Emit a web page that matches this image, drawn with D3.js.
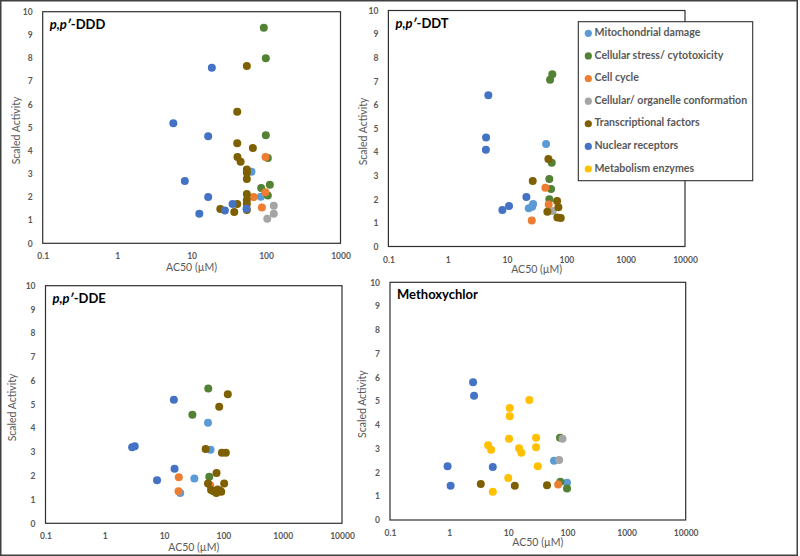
<!DOCTYPE html>
<html>
<head>
<meta charset="utf-8">
<script src="https://cdn.jsdelivr.net/npm/d3@7"></script>
<style>
  html, body { margin: 0; padding: 0; background: #fff; }
  svg { display: block; }
  text { font-family: Lato, "Open Sans", sans-serif; }
</style>
</head>
<body>
<svg id="chart" width="800" height="556"></svg>
<script>
// ---------- data ----------
const categories = ["Mitochondrial damage", "Cellular stress/ cytotoxicity", "Cell cycle",
  "Cellular/ organelle conformation", "Transcriptional factors", "Nuclear receptors", "Metabolism enzymes"];
const colors = ["#5B9BD5", "#548235", "#ED7D31", "#A5A5A5", "#7F6000", "#4472C4", "#FFC000"];

const yTickValues = [0, 1, 2, 3, 4, 5, 6, 7, 8, 9, 10];
const xTicksShort = [0.1, 1, 10, 100, 1000];
const xTicksLong = [0.1, 1, 10, 100, 1000, 10000];
const xTickLabels = {0.1: "0.1", 1: "1", 10: "10", 100: "100", 1000: "1000", 10000: "10000"};

// [category index, AC50 (µM), scaled activity]
const dddPoints = [
  [0, 63.8, 3.09], [0, 85, 2.01],
  [1, 93.3, 9.31], [1, 99.3, 7.99], [1, 99.3, 4.66], [1, 105.7, 3.68], [1, 112.5, 2.53], [1, 86, 2.39], [1, 105.7, 2.06],
  [2, 98.4, 3.73], [2, 97.7, 2.20], [2, 67.9, 2.00], [2, 87.9, 1.55],
  [3, 127, 1.62], [3, 127, 1.28], [3, 103.8, 1.06],
  [4, 55.2, 7.66], [4, 41, 5.68], [4, 41, 4.32], [4, 66.5, 4.11], [4, 41.3, 3.73], [4, 45.5, 3.52],
  [4, 55.2, 3.19], [4, 55.2, 3.05], [4, 55.2, 2.78], [4, 55.2, 2.13], [4, 55.2, 1.87], [4, 55.2, 1.70],
  [4, 55.2, 1.44], [4, 41, 1.70], [4, 24.3, 1.48], [4, 37.4, 1.35],
  [5, 18.7, 7.58], [5, 5.68, 5.18], [5, 16.7, 4.62], [5, 8.1, 2.69], [5, 16.7, 2.00], [5, 12.7, 1.28],
  [5, 28, 1.42], [5, 35.5, 1.70], [5, 54.7, 1.49]
];
const ddtPoints = [
  [0, 45.5, 4.34], [0, 23.2, 1.62], [0, 26.5, 1.68], [0, 27.5, 1.80],
  [1, 58, 7.30], [1, 53.1, 7.07], [1, 56.7, 3.55], [1, 51.6, 2.86], [1, 55.2, 2.44], [1, 51.6, 2.00],
  [2, 44.3, 2.49], [2, 50.4, 1.78], [2, 26.1, 1.10],
  [3, 58.9, 1.50],
  [4, 27.1, 2.78], [4, 49.8, 3.71], [4, 69.7, 1.93], [4, 73.3, 1.66], [4, 47.9, 1.47], [4, 70.5, 1.23], [4, 80.5, 1.21],
  [5, 4.84, 6.41], [5, 4.43, 4.62], [5, 4.4, 4.10], [5, 21.2, 2.10], [5, 10.8, 1.72], [5, 8.34, 1.55]
];
const ddePoints = [
  [0, 55, 4.23], [0, 60.7, 3.10], [0, 32.4, 1.89], [0, 18.7, 1.28],
  [1, 55.6, 5.67], [1, 30, 4.57], [1, 57.8, 1.96],
  [2, 17.7, 1.94], [2, 17.5, 1.35], [2, 60, 1.60],
  [4, 118.6, 5.43], [4, 84.9, 4.91], [4, 50.1, 3.13], [4, 94.2, 2.97], [4, 109.9, 2.97], [4, 76.6, 2.12],
  [4, 55, 1.68], [4, 103, 1.67], [4, 62, 1.40], [4, 68, 1.35], [4, 76, 1.28], [4, 80, 1.42], [4, 88, 1.37], [4, 92, 1.33],
  [5, 14.6, 5.20], [5, 15, 2.30], [5, 7.6, 1.81], [5, 2.89, 3.20], [5, 3.2, 3.24]
];
const methoxyPoints = [
  [0, 59.4, 2.49], [0, 98.4, 1.57],
  [1, 75, 3.46], [1, 76, 1.61], [1, 98.4, 1.32],
  [2, 69.7, 1.49],
  [3, 82.6, 3.42], [3, 72.4, 2.52],
  [4, 3.43, 1.51], [4, 12.9, 1.44], [4, 45.2, 1.46],
  [5, 2.54, 5.79], [5, 2.64, 5.23], [5, 0.94, 2.26], [5, 1.06, 1.44], [5, 5.47, 2.23],
  [6, 22.7, 5.05], [6, 10.6, 4.71], [6, 10.6, 4.36], [6, 10.3, 3.42], [6, 29.5, 3.46], [6, 29.5, 3.06],
  [6, 4.56, 3.14], [6, 5.12, 2.96], [6, 15.2, 3.02], [6, 16.6, 2.83], [6, 31.5, 2.26], [6, 10, 1.77], [6, 5.47, 1.19]
];

// ---------- layout ----------
const panels = [
  {title: "ddd", points: dddPoints, xMax: 1000, ticks: xTicksShort, x0: 42.7, x1: 340.5, y0: 11.7, y1: 243.3, yTitleX: 17, xTitleY: 268},
  {title: "ddt", points: ddtPoints, xMax: 10000, ticks: xTicksLong, x0: 388.4, x1: 685, y0: 10.5, y1: 246.5, yTitleX: 364, xTitleY: 270},
  {title: "dde", points: ddePoints, xMax: 10000, ticks: xTicksLong, x0: 45.5, x1: 342, y0: 285.7, y1: 523.3, yTitleX: 13, xTitleY: 548},
  {title: "Methoxychlor", points: methoxyPoints, xMax: 10000, ticks: xTicksLong, x0: 390, x1: 685.7, y0: 282.3, y1: 520, yTitleX: 363, xTitleY: 543}
];
const titleParts = {
  ddd: [["p,p′", true], ["-DDD", false]],
  ddt: [["p,p′", true], ["-DDT", false]],
  dde: [["p,p′", true], ["-DDE", false]],
  Methoxychlor: [["Methoxychlor", false]]
};

const svg = d3.select("#chart");
svg.append("rect").attr("x", 0.75).attr("y", 0.75).attr("width", 796.5).attr("height", 554.5)
  .attr("fill", "#fff").attr("stroke", "#404040").attr("stroke-width", 1.5);

const tickColor = "#595959";

panels.forEach(p => {
  const x = d3.scaleLog().domain([0.1, p.xMax]).range([p.x0, p.x1]);
  const y = d3.scaleLinear().domain([0, 10]).range([p.y1, p.y0]);
  const g = svg.append("g");

  // plot box
  g.append("rect").attr("x", p.x0).attr("y", p.y0).attr("width", p.x1 - p.x0).attr("height", p.y1 - p.y0)
    .attr("fill", "none").attr("stroke", "#303030").attr("stroke-width", 1.2);

  // axes
  const xAxis = d3.axisBottom(x).tickValues(p.ticks).tickFormat(d => xTickLabels[d]).tickSize(0).tickPadding(10);
  const gx = g.append("g").attr("transform", `translate(0,${p.y1})`).call(xAxis);
  const yAxis = d3.axisLeft(y).tickValues(yTickValues).tickFormat(d3.format("d")).tickSize(0).tickPadding(10);
  const gy = g.append("g").attr("transform", `translate(${p.x0},0)`).call(yAxis);
  [gx, gy].forEach(a => {
    a.select(".domain").remove();
    a.selectAll("text").attr("fill", tickColor).style("font-size", "8.5px").style("font-weight", "bold")
      .style("font-family", "Lato, sans-serif");
  });

  // axis titles
  g.append("text").attr("x", (p.x0 + p.x1) / 2).attr("y", p.xTitleY).attr("text-anchor", "middle")
    .attr("dominant-baseline", "middle").attr("fill", tickColor).style("font-size", "10.5px").text("AC50 (µM)");
  g.append("text").attr("transform", `translate(${p.yTitleX},${(p.y0 + p.y1) / 2 + 3}) rotate(-90)`)
    .attr("text-anchor", "middle").attr("dominant-baseline", "middle").attr("fill", tickColor)
    .style("font-size", "10.5px").text("Scaled Activity");

  // title
  const t = g.append("text").attr("x", p.x0 + 7).attr("y", p.y0 + 17).attr("fill", "#000")
    .style("font-size", "13px").style("font-weight", "bold");
  titleParts[p.title].forEach(([s, it]) => t.append("tspan").style("font-style", it ? "italic" : "normal").text(s));

  // points, in series order
  const pts = p.points.slice().sort((a, b) => a[0] - b[0]);
  g.append("g").selectAll("circle").data(pts).join("circle")
    .attr("cx", d => x(d[1])).attr("cy", d => y(d[2])).attr("r", 4)
    .attr("fill", d => colors[d[0]]);
});

// legend
const lg = svg.append("g");
lg.append("rect").attr("x", 578.3).attr("y", 21.7).attr("width", 174.4).attr("height", 159)
  .attr("fill", "#fff").attr("stroke", "#303030").attr("stroke-width", 1.1);
const legendY = d3.scalePoint().domain(categories).range([33.3, 169]);
categories.forEach((c, i) => {
  lg.append("circle").attr("cx", 588.3).attr("cy", legendY(c)).attr("r", 3.6).attr("fill", colors[i]);
  lg.append("text").attr("x", 594.5).attr("y", legendY(c)).attr("dominant-baseline", "middle")
    .attr("fill", tickColor).style("font-size", "10.6px").style("font-weight", "bold").text(c);
});
</script>
</body>
</html>
